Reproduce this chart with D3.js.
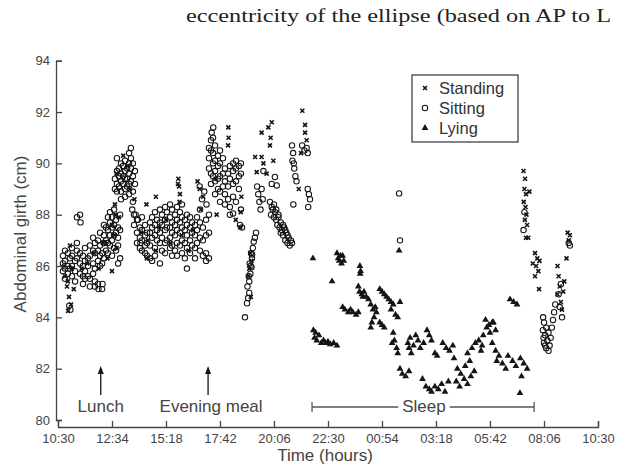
<!DOCTYPE html>
<html>
<head>
<meta charset="utf-8">
<script src="https://cdnjs.cloudflare.com/ajax/libs/d3/7.8.5/d3.min.js"></script>
<style>
body{margin:0;background:#fff;}
text{font-family:"Liberation Sans",Arial,sans-serif;}
</style>
</head>
<body>
<svg id="chart" width="619" height="469"></svg>
<script>
// time is hours after 10:30, girth in cm
var timeLabels = ["10:30","12:34","15:18","17:42","20:06","22:30","00:54","03:18","05:42","08:06","10:30"];
var yTicks = [80,82,84,86,88,90,92,94];
var legendNames = ["Standing","Sitting","Lying"];
var mealEvents = [{label:"Lunch", t:1.9}, {label:"Evening meal", t:6.67}];
var sleepSpan = [11.29, 21.16];

var standing = [
 [0.27,86.0],[0.31,85.6],[0.4,85.2],[0.49,84.8],[0.58,84.5],[0.45,84.25],[0.44,85.4],[0.62,85.9],[0.7,85.1],[0.53,86.8],
 [1.6,86.5],[1.8,85.9],[2.0,86.9],[2.2,86.3],[2.4,87.6],[2.5,87.2],[2.6,86.7],[2.7,87.9],[2.4,85.8],[2.53,88.4],[2.55,88.0],[1.3,86.1],[1.05,85.9],
 [2.6,89.6],[3.1,89.9],[3.2,89.0],[2.9,90.3],
 [3.4,88.6],[3.93,88.4],[4.35,88.7],[3.95,86.3],[4.35,86.6],[4.0,87.0],[4.5,87.5],[5.0,86.9],[5.5,87.2],[6.0,87.4],[4.8,87.8],[5.8,86.6],[3.7,87.3],
 [5.35,89.4],[5.38,89.1],[5.42,88.8],[5.4,88.5],[5.33,89.2],
 [6.2,89.3],[6.3,89.0],[6.45,88.7],[6.35,88.2],
 [7.57,91.4],[7.58,91.0],[7.56,90.7],[7.0,89.4],[7.05,88.0],[7.9,87.8],[8.1,87.5],[8.12,88.1],[8.15,88.7],
 [8.55,86.5],[8.6,86.2],[8.5,85.9],[8.45,85.6],[8.57,84.8],
 [9.05,91.2],[9.35,91.4],[9.5,91.6],[9.42,90.7],[9.45,91.0],[8.76,90.25],[9.05,90.25],[9.13,90.0],[9.27,89.6],[8.83,89.66],[9.57,90.1],
 [10.86,92.05],[10.98,91.5],[10.98,91.2],[11.05,90.9],[10.8,90.4],[10.7,89.0],
 [20.69,89.7],[20.76,89.4],[20.73,89.0],[20.8,88.8],[20.95,88.9],[20.7,88.5],[20.78,88.3],[20.82,88.0],[20.75,87.8],[20.85,87.6],[20.8,87.1],[20.9,87.1],
 [21.2,86.5],[21.3,86.3],[21.25,86.0],[21.35,85.8],[21.2,85.6],[21.4,86.2],[21.1,86.1],[21.38,85.1],
 [22.2,86.0],[22.25,85.6],[22.3,85.2],[22.2,84.9],[22.35,84.6],[22.4,84.3],[22.45,85.0],[22.5,85.4],[22.65,87.3],[22.7,87.0],[22.75,87.2],[22.6,86.3]
];

var sitting = [
 [0.22,86.4],[0.22,86.1],[0.22,85.8],[0.31,86.6],[0.31,86.2],[0.31,85.9],[0.31,85.5],
 [0.44,86.5],[0.44,86.0],[0.44,85.7],[0.53,86.3],[0.53,85.9],[0.55,84.3],[0.5,84.45],
 [0.62,86.7],[0.62,86.4],[0.62,86.0],[0.62,85.6],[0.76,86.2],[0.76,85.8],[0.76,85.4],
 [0.84,86.9],[0.84,86.6],[0.84,86.3],[0.84,87.9],[0.98,86.5],[0.98,86.1],[0.98,85.7],[0.98,88.0],[1.0,87.7],
 [1.11,86.4],[1.11,86.0],[1.11,85.6],[1.11,85.3],[1.2,86.7],[1.2,86.2],[1.2,85.8],[1.2,85.5],
 [1.33,86.3],[1.33,86.0],[1.33,85.6],[1.42,86.8],[1.42,86.4],[1.42,85.2],[1.42,85.5],
 [1.56,86.6],[1.56,86.1],[1.56,85.7],[1.56,87.1],[1.64,86.9],[1.64,86.5],[1.64,85.9],[1.64,85.4],[1.64,85.2],
 [1.78,87.0],[1.78,86.6],[1.78,86.2],[1.78,85.3],[1.8,85.1],[1.87,87.3],[1.87,86.8],[1.87,86.4],[1.87,86.0],
 [1.96,86.5],[1.96,86.1],[1.96,85.1],[1.98,85.3],[2.04,87.6],[2.04,87.2],[2.04,86.9],[2.04,86.3],
 [2.13,87.5],[2.13,87.0],[2.13,86.6],[2.22,87.9],[2.22,87.4],[2.22,86.9],[2.22,86.5],
 [2.31,87.7],[2.31,87.2],[2.31,86.8],[2.31,88.1],[2.4,87.9],[2.4,87.5],[2.4,87.0],[2.4,86.4],
 [2.49,88.2],[2.49,87.6],[2.49,87.2],[2.49,86.7],[2.58,87.8],[2.58,87.3],[2.58,86.6],
 [2.67,87.5],[2.67,87.1],[2.67,86.8],[2.67,86.1],[2.76,88.0],[2.76,87.4],[2.76,86.3],
 [2.53,89.0],[2.53,89.4],[2.62,90.2],[2.62,89.7],[2.62,89.2],[2.62,88.9],[2.71,89.8],[2.71,89.5],[2.71,89.1],
 [2.8,90.0],[2.8,89.6],[2.8,89.3],[2.8,88.9],[2.8,88.6],[2.89,89.9],[2.89,89.5],[2.89,89.2],
 [2.98,90.1],[2.98,89.7],[2.98,89.4],[2.98,89.0],[2.98,88.7],[3.07,89.8],[3.07,89.4],[3.07,89.1],
 [3.16,90.4],[3.16,90.0],[3.16,89.6],[3.16,89.2],[3.16,88.8],[3.24,90.6],[3.24,90.2],[3.24,89.8],[3.24,89.3],
 [3.33,90.0],[3.33,89.5],[3.33,88.9],[3.33,88.5],[3.42,89.7],[3.42,89.2],[3.3,88.2],[3.45,88.0],[3.55,87.8],
 [3.38,88.0],[3.38,87.6],[3.51,87.8],[3.51,87.3],[3.51,86.9],[3.64,87.5],[3.64,87.1],[3.64,86.7],[3.66,86.9],
 [3.73,87.9],[3.73,87.4],[3.73,87.0],[3.73,86.6],[3.87,87.6],[3.87,87.2],[3.87,86.8],[3.87,86.5],
 [3.96,87.3],[3.96,86.9],[3.96,86.4],[4.09,87.7],[4.09,87.3],[4.09,86.8],[4.09,86.3],
 [4.18,87.9],[4.18,87.5],[4.18,87.1],[4.18,86.2],[4.31,88.1],[4.31,87.6],[4.31,87.2],[4.31,86.7],[4.31,86.4],
 [4.4,87.8],[4.4,87.4],[4.4,87.0],[4.53,88.2],[4.53,87.7],[4.53,87.3],[4.53,86.9],[4.53,86.1],
 [4.62,88.0],[4.62,87.6],[4.62,87.1],[4.62,86.6],[4.76,88.3],[4.76,87.8],[4.76,87.4],[4.76,86.9],[4.76,86.5],
 [4.84,88.1],[4.84,87.5],[4.84,87.0],[4.98,88.4],[4.98,87.9],[4.98,87.5],[4.98,87.1],[4.98,86.7],
 [5.07,88.2],[5.07,87.7],[5.07,87.3],[5.07,86.8],[5.07,86.4],[5.2,88.0],[5.2,87.6],[5.2,87.2],[5.2,86.6],
 [5.29,88.3],[5.29,87.8],[5.29,87.4],[5.29,86.9],[5.29,86.4],[5.42,88.1],[5.42,87.7],[5.42,87.3],[5.42,86.8],
 [5.51,88.4],[5.51,87.9],[5.51,87.5],[5.51,87.0],[5.51,86.5],[5.64,87.8],[5.64,87.4],[5.64,86.9],[5.64,86.3],
 [5.73,88.0],[5.73,87.6],[5.73,87.2],[5.73,86.7],[5.73,85.9],[5.87,87.9],[5.87,87.5],[5.87,87.0],[5.87,86.5],
 [5.96,87.7],[5.96,87.3],[5.96,86.8],[6.09,87.6],[6.09,87.2],[6.09,86.7],[6.09,86.3],
 [6.18,87.9],[6.18,87.4],[6.18,86.9],[6.31,88.2],[6.31,87.7],[6.31,87.1],[6.31,86.6],
 [6.44,87.5],[6.44,87.0],[6.44,86.4],[6.58,87.8],[6.58,87.2],[6.58,86.5],[6.58,86.2],[6.71,88.0],[6.71,87.3],[6.71,86.3],
 [6.4,88.6],[6.5,88.9],[6.3,89.1],[6.6,88.4],
 [6.71,90.6],[6.71,90.2],[6.71,89.8],[6.83,91.2],[6.8,90.9],[6.8,90.5],[6.8,89.6],[6.8,89.2],
 [6.9,91.4],[6.89,91.0],[6.89,90.4],[6.89,90.0],[6.89,89.5],[6.98,90.7],[6.98,90.1],[6.98,89.7],[6.98,89.3],[6.98,88.8],
 [7.11,90.3],[7.11,89.9],[7.11,89.4],[7.11,89.0],[7.2,90.5],[7.2,90.0],[7.2,89.5],[7.2,88.9],[7.2,88.5],
 [7.33,90.2],[7.33,89.6],[7.33,89.1],[7.42,89.8],[7.42,89.3],[7.42,88.8],[7.42,88.4],
 [7.56,89.6],[7.56,89.1],[7.56,88.6],[7.64,89.9],[7.64,89.4],[7.64,88.3],[7.64,88.0],
 [7.78,90.0],[7.78,89.7],[7.78,89.2],[7.78,88.7],[7.78,88.05],[7.91,90.1],[7.91,89.8],[7.91,89.3],[7.91,88.5],
 [8.04,89.9],[8.04,89.5],[8.04,89.0],[8.13,90.0],[8.13,89.6],[8.13,88.2],[8.09,87.6],[8.18,87.5],
 [8.31,84.0],[8.4,84.55],[8.45,84.75],[8.5,84.95],[8.42,85.2],[8.5,85.4],[8.55,85.7],[8.6,85.95],[8.52,86.1],
 [8.62,86.3],[8.58,86.5],[8.66,86.7],[8.7,86.95],[8.75,87.1],[8.8,87.3],[8.48,85.6],[8.56,86.0],[8.63,86.45],
 [8.85,89.1],[8.9,88.8],[8.95,88.5],[9.0,88.2],[9.1,88.6],[9.05,89.0],[9.13,89.7],[9.64,89.47],[9.5,89.2],[9.72,89.14],
 [9.42,88.5],[9.5,88.3],[9.47,88.0],[9.55,88.2],[9.6,87.9],[9.65,88.1],[9.7,87.8],[9.75,87.6],[9.8,87.9],
 [9.85,87.5],[9.9,87.7],[9.95,87.4],[10.0,87.2],[10.05,87.5],[10.1,87.0],[10.15,87.3],[10.2,86.9],[10.25,87.1],
 [10.3,86.8],[10.35,87.0],[10.4,86.9],[9.6,88.4],[9.7,88.2],[9.8,88.0],[9.9,87.3],[10.0,87.6],[10.1,87.4],[10.2,87.2],
 [10.4,90.7],[10.45,90.4],[10.42,90.1],[10.5,89.8],[10.55,89.5],[10.6,89.3],[10.48,90.0],
 [10.85,90.7],[10.95,90.5],[11.05,90.6],[11.1,90.4],[10.46,88.4],[11.1,89.0],[11.15,88.8],[11.2,88.6],[11.12,88.3],
 [15.16,88.83],[15.2,87.0],
 [20.73,88.1],[20.69,87.4],
 [21.56,84.0],[21.6,83.8],[21.55,83.5],[21.65,83.3],[21.7,83.6],[21.75,83.1],[21.6,83.0],[21.8,83.4],[21.85,82.9],
 [21.9,83.2],[21.7,82.8],[21.95,83.6],[22.0,83.9],[22.05,84.2],[21.8,82.7],[22.1,84.5],[21.58,83.2],[21.65,82.9],
 [22.25,84.9],[22.35,85.3],[22.3,84.4],[22.4,84.0],[22.7,86.9],[22.75,86.8]
];

var lying = [
 [11.33,86.3],[12.4,86.5],[12.45,86.3],[12.5,86.2],[12.55,86.4],[12.6,86.1],[12.7,86.2],[12.65,86.4],
 [13.42,86.0],[13.45,85.8],[13.43,85.7],[12.18,85.4],
 [13.35,85.2],[13.4,85.0],[13.5,84.9],[13.55,84.8],[13.6,85.0],[13.7,84.8],[13.8,84.7],
 [14.3,85.1],[14.4,85.0],[14.5,84.9],[14.6,84.8],[14.7,84.7],[14.8,84.6],
 [12.65,84.4],[12.75,84.3],[12.9,84.2],[13.0,84.3],[13.1,84.2],[13.25,84.1],[13.35,84.2],
 [13.9,84.5],[14.0,84.3],[14.05,84.0],[13.95,83.8],[14.1,84.4],[13.9,83.6],[14.15,84.2],
 [14.8,84.3],[14.9,84.5],[15.0,84.1],[15.1,84.0],[15.2,84.6],
 [11.35,83.5],[11.4,83.2],[11.5,83.1],[11.6,83.3],[11.7,83.0],[11.8,83.1],[11.9,83.0],[12.0,83.05],[12.1,82.95],[12.25,83.0],[12.4,82.9],[11.45,83.4],
 [14.3,83.8],[14.4,83.7],[14.5,83.6],
 [14.9,83.4],[14.95,83.1],[15.05,82.8],[15.1,82.6],[14.85,83.0],
 [15.55,83.0],[15.65,83.2],[15.8,82.9],[15.9,83.3],[16.0,83.1],[16.1,82.8],[16.25,83.0],[16.4,83.5],[16.5,83.3],[16.6,83.1],[16.75,82.6],[16.85,82.5],[15.7,82.6],[15.6,82.8],
 [15.2,82.0],[15.3,81.8],[15.45,81.7],[15.6,81.9],
 [16.2,81.6],[16.35,81.3],[16.5,81.2],[16.6,81.1],[16.75,81.3],[16.9,81.2],[17.05,81.4],[17.2,81.1],[17.35,81.5],
 [17.1,83.0],[17.25,82.8],[17.4,82.7],[17.55,82.9],
 [17.6,82.4],[17.75,82.0],[17.9,81.8],[18.05,81.6],[18.2,81.4],[18.35,81.7],[18.5,81.9],[17.7,81.5],[17.85,81.3],[18.1,82.1],[18.3,82.3],
 [18.4,82.8],[18.55,83.0],[18.7,83.1],[18.85,82.9],[18.2,82.6],
 [18.9,83.3],[19.05,83.6],[19.2,83.4],[19.35,83.8],[19.45,83.5],[18.8,82.7],
 [19.0,83.9],[19.15,83.7],[19.3,83.8],
 [20.09,84.7],[20.25,84.6],[20.4,84.5],
 [19.3,83.0],[19.45,82.7],[19.6,82.5],[19.75,82.2],[19.9,82.0],[19.5,82.3],
 [20.0,82.5],[20.2,82.3],[20.35,82.1],[20.55,82.4],[20.7,82.2],[20.85,82.0],[20.6,81.7],
 [20.53,81.05],[15.16,86.6]
];

var svg = d3.select("#chart");
var x = d3.scaleLinear().domain([0, 24]).range([58, 598]);
var y = d3.scaleLinear().domain([80, 94]).range([420, 60.7]);
var ink = "#151515";
var axisCol = "#444";

// header text from the page above the figure
svg.append("text")
    .attr("x", 186).attr("y", 22)
    .attr("textLength", 425).attr("lengthAdjust", "spacingAndGlyphs")
    .style("font-family", "'Liberation Serif','Times New Roman',serif")
    .style("font-size", "19px").attr("fill", "#222")
    .text("eccentricity of the ellipse (based on AP to L");

// axes
var xAxis = d3.axisBottom(x)
    .tickValues(timeLabels.map(function(d, i){ return i * 2.4; }))
    .tickFormat(function(d, i){ return timeLabels[i]; })
    .tickSize(-6).tickSizeOuter(-6).tickPadding(7);
var gx = svg.append("g").attr("transform", "translate(0,427)").call(xAxis);

var yAxis = d3.axisLeft(y).tickValues(yTicks)
    .tickSize(-6).tickSizeOuter(-6).tickPadding(6);
var gy = svg.append("g").attr("transform", "translate(56,0)").call(yAxis);

[gx, gy].forEach(function(g){
    g.selectAll("path,line").attr("stroke", axisCol).attr("stroke-width", 1.3);
    g.selectAll("text").attr("fill", axisCol).style("font-size", "13px")
        .style("font-family", "'Liberation Sans',Arial,sans-serif");
});

svg.append("text")
    .attr("x", 325).attr("y", 461)
    .attr("text-anchor", "middle").attr("fill", axisCol)
    .style("font-size", "17px")
    .text("Time (hours)");

svg.append("text")
    .attr("transform", "translate(26,234) rotate(-90)")
    .attr("text-anchor", "middle").attr("fill", axisCol)
    .style("font-size", "17px")
    .text("Abdominal girth (cm)");

// markers
var crossPath = "M-2,-2L2,2M-2,2L2,-2";
var triPath = d3.symbol().type(d3.symbolTriangle).size(20)();

function drawCross(sel){
    sel.attr("d", crossPath).attr("stroke", ink).attr("stroke-width", 1.6).attr("fill", "none");
}
function drawCircle(sel){
    sel.attr("r", 2.7).attr("fill", "none").attr("stroke", ink).attr("stroke-width", 1.05);
}
function drawTri(sel){
    sel.attr("d", triPath).attr("fill", ink);
}

svg.append("g").selectAll("circle")
    .data(sitting).enter().append("circle")
    .attr("cx", function(d){ return x(d[0]); })
    .attr("cy", function(d){ return y(d[1]); })
    .call(drawCircle);

svg.append("g").selectAll("path")
    .data(standing).enter().append("path")
    .attr("transform", function(d){ return "translate(" + x(d[0]) + "," + y(d[1]) + ")"; })
    .call(drawCross);

svg.append("g").selectAll("path")
    .data(lying).enter().append("path")
    .attr("transform", function(d){ return "translate(" + x(d[0]) + "," + y(d[1]) + ")"; })
    .call(drawTri);

// legend
var lg = svg.append("g");
lg.append("rect").attr("x", 412).attr("y", 75).attr("width", 106).attr("height", 67)
    .attr("fill", "#fff").attr("stroke", "#333").attr("stroke-width", 1.2);
legendNames.forEach(function(name, i){
    var cy = 88 + i * 20;
    if (i === 0) lg.append("path").attr("transform", "translate(425," + cy + ")").call(drawCross);
    if (i === 1) lg.append("circle").attr("cx", 425).attr("cy", cy).call(drawCircle);
    if (i === 2) lg.append("path").attr("transform", "translate(425," + cy + ")").call(drawTri);
    lg.append("text").attr("x", 439).attr("y", cy + 6)
        .attr("fill", "#333").style("font-size", "16.5px").text(name);
});

// meal arrows
mealEvents.forEach(function(ev){
    var ax = x(ev.t);
    svg.append("line").attr("x1", ax).attr("x2", ax).attr("y1", 395).attr("y2", 372)
        .attr("stroke", ink).attr("stroke-width", 1.3);
    svg.append("path").attr("d", "M" + (ax - 3) + ",374L" + ax + ",366L" + (ax + 3) + ",374Z").attr("fill", ink);
    svg.append("text").attr("x", ax + (ev.label.length > 6 ? 3 : 0)).attr("y", 412)
        .attr("text-anchor", "middle").attr("fill", axisCol)
        .style("font-size", "17px").text(ev.label);
});

// sleep bracket
var sx0 = x(sleepSpan[0]), sx1 = x(sleepSpan[1]), sy = 407;
var st = svg.append("text").attr("x", 424).attr("y", 412)
    .attr("text-anchor", "middle").attr("fill", axisCol)
    .style("font-size", "17px").text("Sleep");
var half = st.node().getComputedTextLength() / 2;
var sb = svg.append("g").attr("stroke", "#555").attr("stroke-width", 1.3);
sb.append("line").attr("x1", sx0).attr("x2", 424 - half - 4).attr("y1", sy).attr("y2", sy);
sb.append("line").attr("x1", 424 + half + 4).attr("x2", sx1).attr("y1", sy).attr("y2", sy);
sb.append("line").attr("x1", sx0).attr("x2", sx0).attr("y1", sy - 5).attr("y2", sy + 5);
sb.append("line").attr("x1", sx1).attr("x2", sx1).attr("y1", sy - 5).attr("y2", sy + 5);
</script>
</body>
</html>
